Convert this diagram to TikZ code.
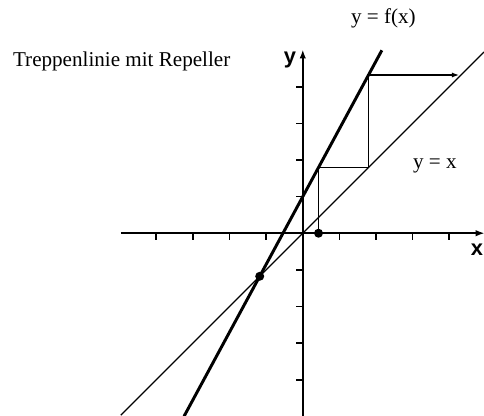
\documentclass[tikz,border=0pt]{standalone}
\usepackage{fontspec}
\setmainfont{Liberation Serif}
\setsansfont{Liberation Sans}
\usepackage{tikz}
\usetikzlibrary{arrows.meta,positioning,calc}

\begin{document}
\begin{tikzpicture}[font=\fontsize{16.4}{19}\selectfont,
  axis/.style={line width=1.5pt,-{Latex[length=7pt,width=5pt]}},
  graphline/.style={line width=2.3pt},
  diagline/.style={line width=0.9pt},
  stair/.style={line width=1.2pt},
  tick/.style={line width=1.3pt},
  fixdot/.style={circle,fill,inner sep=0pt,minimum size=7pt}]
\useasboundingbox (-8.27,-4.99) rectangle (4.95,6.37);
% axes
\coordinate (xl) at (-4.97,0);
\coordinate (xr) at (4.97,0);
\coordinate (yb) at (0,-5.0);
\coordinate (yt) at (0,5.02);
\draw[axis] (xl) -- (xr);
\draw[axis] (yb) -- (yt);
\foreach \k in {-4,-3,-2,-1,1,2,3,4} {
  \draw[tick] (\k,0) -- (\k,-0.18);
  \draw[tick] (0,\k) -- (-0.19,\k);
}
\node[font=\fontsize{17}{19}\sffamily\bfseries] (ylab) at (-0.35,4.73) {y};
\node[font=\fontsize{17}{19}\sffamily\bfseries,anchor=east,inner sep=0.5pt] (xlab) at (4.95,-0.45) {x};
% y = x and y = f(x)
\coordinate (d1) at (-4.97,-4.97);
\coordinate (d2) at (4.95,4.95);
\draw[diagline] (d1) -- (d2);
\coordinate (f1) at (-3.243,-5.0);
\coordinate (f2) at (2.16,4.996);
\draw[graphline] (f1) -- (f2);
% staircase
\coordinate (s0) at (0.43,0);
\coordinate (s1) at (0.43,1.7955);
\coordinate (s2) at (1.7955,1.7955);
\coordinate (s3) at (1.7955,4.3217);
\coordinate (s4) at (4.28,4.3217);
\draw[stair] (s0) -- (s1) -- (s2) -- (s3);
\draw[stair,-{Latex[length=6pt,width=4pt]}] (s3) -- (s4);
\node[fixdot] (start) at (s0) {};
\node[fixdot] (fix) at (-1.176,-1.176) {};
% labels
\node (flab) at (2.20,5.86) {y = f(x)};
\node (dlab) at (3.61,1.85) {y = x};
\node[anchor=west,inner sep=0pt] (title) at (-7.92,4.69) {Treppenlinie mit Repeller};
\end{tikzpicture}
\end{document}
